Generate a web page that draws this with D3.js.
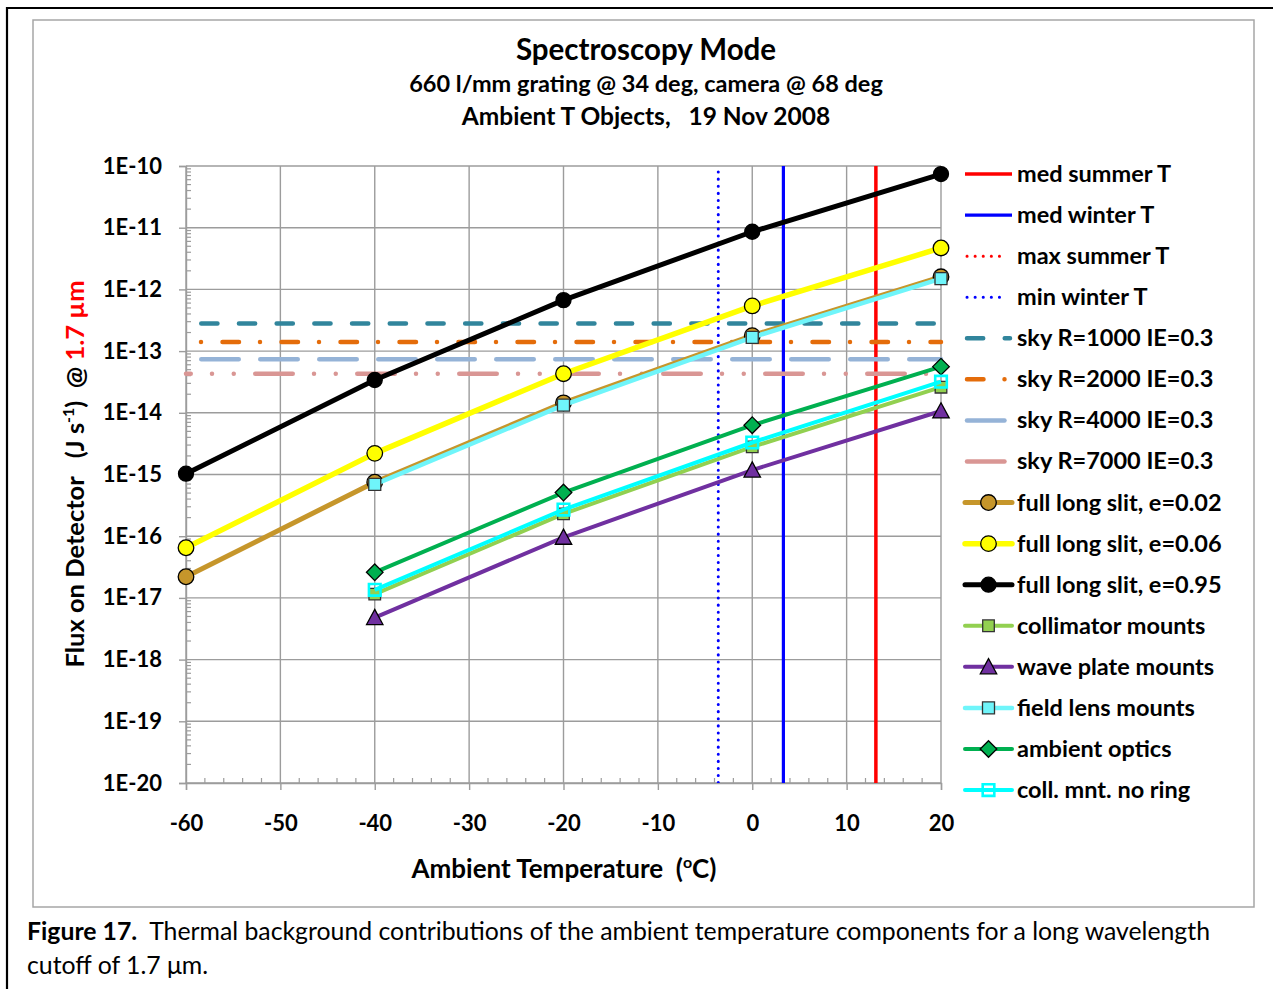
<!DOCTYPE html>
<html><head><meta charset="utf-8">
<script src="https://cdn.jsdelivr.net/npm/d3@7"></script>
<style>
body{margin:0;background:#fff;}
svg{display:block;font-family:Lato,"Open Sans",sans-serif;}
text{white-space:pre;}
</style></head><body>
<svg id="c" width="1273" height="989"></svg>
<script>
// ---------- data ----------
const xTicks = [-60, -50, -40, -30, -20, -10, 0, 10, 20];
const yTickLabels = ["1E-20","1E-19","1E-18","1E-17","1E-16","1E-15","1E-14","1E-13","1E-12","1E-11","1E-10"];
const yTickValues = [1e-20,1e-19,1e-18,1e-17,1e-16,1e-15,1e-14,1e-13,1e-12,1e-11,1e-10];
const tempsSlit = [-60, -40, -20, 0, 20];
const tempsMount = [-40, -20, 0, 20];
const slit002 = [2.2e-17, 7.5e-16, 1.45e-14, 1.78e-13, 1.6e-12];
const slit006 = [6.5e-17, 2.2e-15, 4.3e-14, 5.4e-13, 4.7e-12];
const slit095 = [1.03e-15, 3.4e-14, 6.7e-13, 8.6e-12, 7.4e-11];
const collimatorMounts = [1.15e-17, 2.3e-16, 2.8e-15, 2.6e-14];
const wavePlateMounts = [4.8e-18, 9.6e-17, 1.18e-15, 1.07e-14];
const fieldLensMounts = [6.9e-16, 1.33e-14, 1.67e-13, 1.5e-12];
const ambientOptics = [2.6e-17, 5.1e-16, 6.3e-15, 5.6e-14];
const collNoRing = [1.35e-17, 2.7e-16, 3.3e-15, 3.2e-14];
const skyNames = ["sky R=1000 IE=0.3","sky R=2000 IE=0.3","sky R=4000 IE=0.3","sky R=7000 IE=0.3"];
const skyFlux = [2.8e-13, 1.4e-13, 7.4e-14, 4.3e-14];
const medSummerT = 13.1, medWinterT = 3.3, maxSummerT = 27, minWinterT = -3.6;
const titleLines = ["Spectroscopy Mode", "660 l/mm grating @ 34 deg, camera @ 68 deg", "Ambient T Objects,   19 Nov 2008"];

// ---------- setup ----------
const svg = d3.select("#c");
const x = d3.scaleLinear().domain([-60, 20]).range([186, 941]);
const y = d3.scaleLog().domain([1e-20, 1e-10]).range([783, 166]);
const GRID = "#9c9c9c";

// frames
svg.append("path").attr("d","M7,989 V8 H1273").attr("fill","none").attr("stroke","#000").attr("stroke-width",2.2);
svg.append("rect").attr("x",33).attr("y",20).attr("width",1221).attr("height",887)
  .attr("fill","none").attr("stroke","#a6a6a6").attr("stroke-width",1.5);

// titles
const tt = svg.append("g").attr("font-weight","bold").attr("text-anchor","middle").attr("fill","#000");
tt.append("text").attr("x",646).attr("y",60).attr("font-size",29.5).text(titleLines[0]);
tt.append("text").attr("x",646).attr("y",92).attr("font-size",23.5).text(titleLines[1]);
tt.append("text").attr("x",646).attr("y",125).attr("font-size",24.5).text(titleLines[2]);

// gridlines
const grid = svg.append("g").attr("stroke",GRID).attr("stroke-width",1.4);
grid.selectAll(".gx").data(xTicks).join("line")
  .attr("x1",d=>x(d)).attr("x2",d=>x(d)).attr("y1",y(1e-10)).attr("y2",y(1e-20));
grid.selectAll(".gy").data(yTickValues).join("line")
  .attr("x1",x(-60)).attr("x2",x(20)).attr("y1",d=>y(d)).attr("y2",d=>y(d));

// axes
const yAxis = d3.axisLeft(y).tickValues(yTickValues).tickFormat((d,i)=>yTickLabels[i]).tickSize(7).tickPadding(17);
const gy = svg.append("g").attr("transform",`translate(${x(-60)},0)`).call(yAxis);
gy.select(".domain").attr("stroke",GRID).attr("stroke-width",1.4);
gy.selectAll(".tick line").attr("stroke",GRID).attr("stroke-width",1.4);
gy.selectAll(".tick text").attr("font-size",22).attr("font-weight","bold").attr("font-family","Lato").attr("fill","#000");
// minor y ticks inside
const minorY = [];
for (let e=-20;e<-10;e++) for (let m=2;m<=9;m++) minorY.push(m*Math.pow(10,e));
svg.append("g").selectAll("line").data(minorY).join("line")
  .attr("x1",x(-60)).attr("x2",x(-60)+5).attr("y1",d=>y(d)).attr("y2",d=>y(d))
  .attr("stroke",GRID).attr("stroke-width",1.2);

const xAxis = d3.axisBottom(x).tickValues(xTicks).tickSize(7).tickPadding(25).tickFormat(d=>String(d));
const gx = svg.append("g").attr("transform",`translate(0,${y(1e-20)})`).call(xAxis);
gx.select(".domain").attr("stroke",GRID).attr("stroke-width",1.4);
gx.selectAll(".tick line").attr("stroke",GRID).attr("stroke-width",1.4);
gx.selectAll(".tick text").attr("font-size",22).attr("font-weight","bold").attr("font-family","Lato").attr("fill","#000");
const minorX = d3.range(-58, 20, 2).filter(d=>d%10!==0);
svg.append("g").selectAll("line").data(minorX).join("line")
  .attr("x1",d=>x(d)).attr("x2",d=>x(d)).attr("y1",y(1e-20)).attr("y2",y(1e-20)-5)
  .attr("stroke",GRID).attr("stroke-width",1.2);

// axis titles
const xt = svg.append("text").attr("x",564).attr("y",878).attr("text-anchor","middle")
  .attr("font-size",26).attr("font-weight","bold");
xt.append("tspan").text("Ambient Temperature  (");
xt.append("tspan").attr("font-size",16).attr("dy",-10).text("o");
xt.append("tspan").attr("dy",10).text("C)");

const ytl = svg.append("text").attr("transform","translate(84,474) rotate(-90)").attr("text-anchor","middle")
  .attr("font-size",25.5).attr("font-weight","bold");
ytl.append("tspan").text("Flux on Detector   (J s");
ytl.append("tspan").attr("font-size",16).attr("dy",-10).text("-1");
ytl.append("tspan").attr("dy",10).text(")  @ ");
ytl.append("tspan").attr("fill","#ff0000").text("1.7 µm");

// ---------- series ----------
const plot = svg.append("g");
const clip = svg.append("clipPath").attr("id","pc").append("rect")
  .attr("x",x(-60)).attr("y",y(1e-10)).attr("width",x(20)-x(-60)).attr("height",y(1e-20)-y(1e-10));

// vertical temperature lines
const vlines = [
  {name:"med summer T", t:medSummerT, color:"#ff0000", w:3.5, dash:null},
  {name:"med winter T", t:medWinterT, color:"#0000ff", w:3.2, dash:null},
  {name:"max summer T", t:maxSummerT, color:"#ff0000", w:3, dash:"0.1,7"},
  {name:"min winter T", t:minWinterT, color:"#0000ff", w:3, dash:"0.1,7"}
];
plot.append("g").attr("clip-path","url(#pc)").selectAll("line").data(vlines).join("line")
  .attr("x1",d=>x(d.t)).attr("x2",d=>x(d.t)).attr("y1",d=>y(1e-10)+(d.dash?6:0)).attr("y2",y(1e-20))
  .attr("stroke",d=>d.color).attr("stroke-width",d=>d.w)
  .attr("stroke-dasharray",d=>d.dash).attr("stroke-linecap",d=>d.dash?"round":"butt");

// sky lines
const skyStyles = [
  {color:"#31859c", dash:"16.2,21.5", off:22.45, loff:0},
  {color:"#e46c0a", dash:"0,21.5,16.5,21", off:44, loff:21.5},
  {color:"#95b3d7", dash:"37.5,21.5", off:43.75, loff:0},
  {color:"#d99694", dash:"37.5,21.25,0,21.75,0,21.5", off:32.75, loff:0}
];
plot.append("g").selectAll("line").data(skyFlux).join("line")
  .attr("x1",x(-60)).attr("x2",x(20)).attr("y1",d=>y(d)).attr("y2",d=>y(d))
  .attr("stroke",(d,i)=>skyStyles[i].color).attr("stroke-width",4.5).attr("stroke-linecap","round")
  .attr("stroke-dasharray",(d,i)=>skyStyles[i].dash).attr("stroke-dashoffset",(d,i)=>skyStyles[i].off);

const series = [
  {name:"full long slit, e=0.02", xs:tempsSlit, ys:slit002, color:"#c6962b", w:5, marker:"circle", fill:"#c6962b", mstroke:"#000", size:7.8},
  {name:"full long slit, e=0.06", xs:tempsSlit, ys:slit006, color:"#ffff00", w:5.5, marker:"circle", fill:"#ffff00", mstroke:"#000", size:7.8},
  {name:"full long slit, e=0.95", xs:tempsSlit, ys:slit095, color:"#000000", w:5, marker:"circle", fill:"#000", mstroke:"#000", size:7.5},
  {name:"collimator mounts", xs:tempsMount, ys:collimatorMounts, color:"#92d050", w:4, marker:"square", fill:"#92d050", mstroke:"#333", size:5.8},
  {name:"wave plate mounts", xs:tempsMount, ys:wavePlateMounts, color:"#7030a0", w:4, marker:"triangle", fill:"#7030a0", mstroke:"#000", size:8.2},
  {name:"field lens mounts", xs:tempsMount, ys:fieldLensMounts, color:"#6ff5fa", w:4.5, marker:"square", fill:"#6ff5fa", mstroke:"#333", size:6},
  {name:"ambient optics", xs:tempsMount, ys:ambientOptics, color:"#00b050", w:4, marker:"diamond", fill:"#00b050", mstroke:"#000", size:8.3},
  {name:"coll. mnt. no ring", xs:tempsMount, ys:collNoRing, color:"#00ffff", w:4, marker:"hsquare", fill:"none", mstroke:"#00ffff", size:5.8}
];

function markerPath(type, s) {
  if (type === "circle") return null;
  if (type === "square" || type === "hsquare") return `M${-s},${-s}H${s}V${s}H${-s}Z`;
  if (type === "triangle") return `M0,${-s}L${s},${s*0.85}L${-s},${s*0.85}Z`;
  if (type === "diamond") return `M0,${-s}L${s},0L0,${s}L${-s},0Z`;
}
function drawMarker(g, s, cx, cy) {
  if (s.marker === "circle") {
    g.append("circle").attr("cx",cx).attr("cy",cy).attr("r",s.size)
      .attr("fill",s.fill).attr("stroke",s.mstroke).attr("stroke-width",1.3);
  } else {
    g.append("path").attr("d",markerPath(s.marker,s.size)).attr("transform",`translate(${cx},${cy})`)
      .attr("fill",s.fill).attr("stroke",s.mstroke).attr("stroke-width",s.marker==="hsquare"?2.6:1.3);
  }
}
const line = d3.line().x(d=>x(d[0])).y(d=>y(d[1]));
series.forEach(s => {
  const g = plot.append("g");
  const pts = s.xs.map((t,i)=>[t, s.ys[i]]);
  g.append("path").attr("d",line(pts)).attr("fill","none").attr("stroke",s.color)
    .attr("stroke-width",s.w).attr("stroke-linejoin","round");
  pts.forEach(p => drawMarker(g, s, x(p[0]), y(p[1])));
});

// ---------- legend ----------
const legendItems = [
  ...vlines.map(v=>({name:v.name, type:"v", v})),
  ...skyNames.map((n,i)=>({name:n, type:"sky", st:skyStyles[i]})),
  ...series.map(s=>({name:s.name, type:"s", s}))
];
const lg = svg.append("g");
legendItems.forEach((it,i) => {
  const cy = 174 + i*41.07;
  const g = lg.append("g");
  if (it.type === "v") {
    g.append("line").attr("x1",it.v.dash?967:965).attr("x2",it.v.dash?1007:1012).attr("y1",cy).attr("y2",cy)
      .attr("stroke",it.v.color).attr("stroke-width",it.v.w)
      .attr("stroke-dasharray",it.v.dash?"0.1,8":null).attr("stroke-linecap",it.v.dash?"round":"butt");
  } else if (it.type === "sky") {
    g.append("line").attr("x1",967).attr("x2",1010).attr("y1",cy).attr("y2",cy)
      .attr("stroke",it.st.color).attr("stroke-width",4.5).attr("stroke-linecap","round")
      .attr("stroke-dasharray",it.st.dash).attr("stroke-dashoffset",it.st.loff);
  } else {
    g.append("line").attr("x1",965).attr("x2",1012).attr("y1",cy).attr("y2",cy)
      .attr("stroke",it.s.color).attr("stroke-width",it.s.w).attr("stroke-linecap","round");
    drawMarker(g, it.s, 988.5, cy);
  }
  g.append("text").attr("x",1017).attr("y",cy+8).attr("font-size",23.5).attr("font-weight","bold").text(it.name);
});

// ---------- caption ----------
const cap = svg.append("text").attr("x",27).attr("y",940).attr("font-size",24.8).attr("fill","#000");
cap.append("tspan").attr("font-weight","bold").text("Figure 17.");
cap.append("tspan").text("  Thermal background contributions of the ambient temperature components for a long wavelength");
svg.append("text").attr("x",27).attr("y",974).attr("font-size",24.8).text("cutoff of 1.7 μm.");
</script>
</body></html>
